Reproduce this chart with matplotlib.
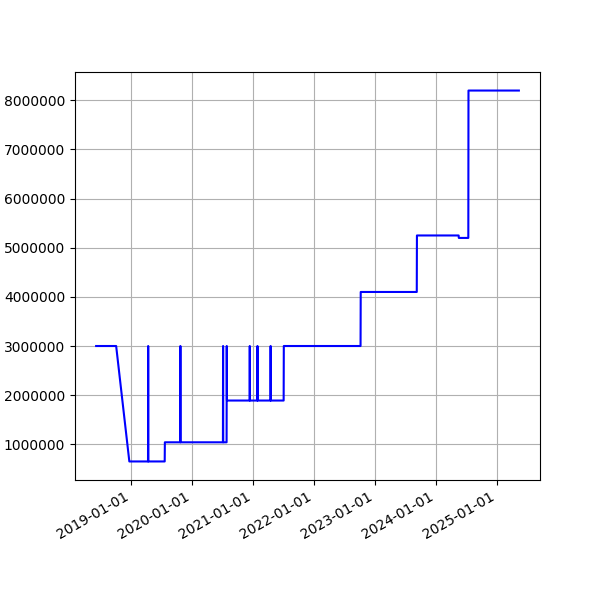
import matplotlib
matplotlib.use("Agg")
import matplotlib.pyplot as plt
import matplotlib.dates as mdates
import pandas as pd

# vertices of the price line (date, value)
dates = [
    "2018-06-04", "2018-10-02", "2018-12-20",
    "2019-04-11", "2019-04-12", "2019-04-13",
    "2019-07-20", "2019-07-21",
    "2019-10-21", "2019-10-22", "2019-10-23",
    "2020-07-03", "2020-07-04", "2020-07-05",
    "2020-07-25", "2020-07-26", "2020-07-27",
    "2020-12-10", "2020-12-11", "2020-12-12",
    "2021-01-25", "2021-01-26", "2021-01-27",
    "2021-04-14", "2021-04-15", "2021-04-16",
    "2021-07-02", "2021-07-03",
    "2022-10-06", "2022-10-07",
    "2023-09-08", "2023-09-09",
    "2024-05-16", "2024-05-17",
    "2024-07-13", "2024-07-14",
    "2025-05-12",
]
values = [
    3000000, 3000000, 650000,
    650000, 3000000, 650000,
    650000, 1040000,
    1040000, 3000000, 1040000,
    1040000, 3000000, 1040000,
    1040000, 3000000, 1890000,
    1890000, 3000000, 1890000,
    1890000, 3000000, 1890000,
    1890000, 3000000, 1890000,
    1890000, 3000000,
    3000000, 4100000,
    4100000, 5250000,
    5250000, 5200000,
    5200000, 8200000,
    8200000,
]

x = pd.to_datetime(dates)

fig, ax = plt.subplots(figsize=(6, 6), dpi=100)
ax.plot(x, values, color="blue")
ax.grid(True)
ax.xaxis.set_major_locator(mdates.YearLocator())
ax.xaxis.set_major_formatter(mdates.DateFormatter("%Y-%m-%d"))
ax.ticklabel_format(axis="y", style="plain", useOffset=False)
fig.autofmt_xdate()

fig.savefig("out.png")
